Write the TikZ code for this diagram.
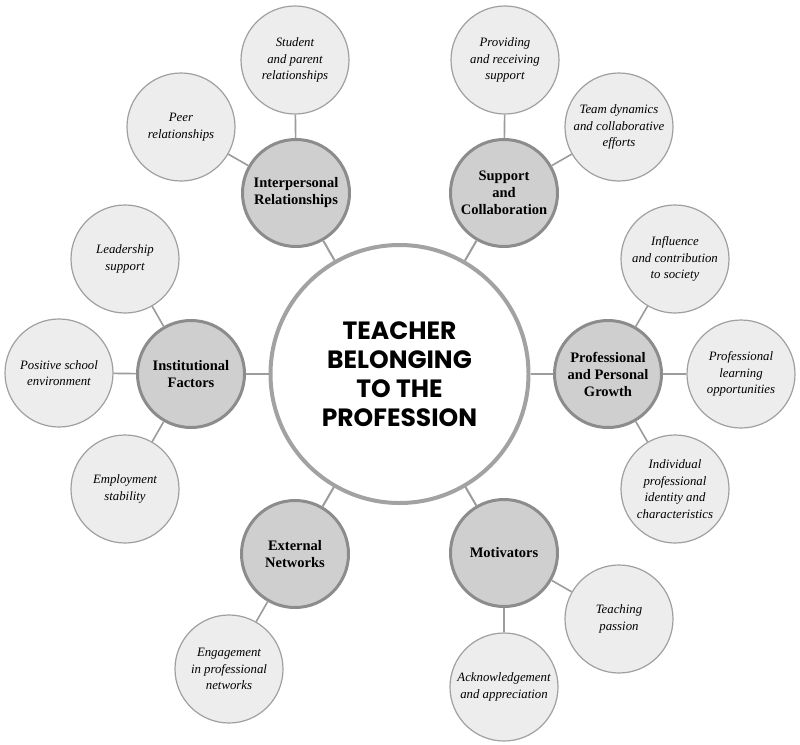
\documentclass[tikz,border=0pt]{standalone}
\usepackage{fontspec}
\setmainfont{Liberation Serif}
\newfontfamily\headfont{Poppins}
\definecolor{catfill}{HTML}{CFCFCF}
\definecolor{catdraw}{HTML}{8C8C8C}
\definecolor{leaffill}{HTML}{EDEDED}
\definecolor{leafdraw}{HTML}{A0A0A0}
\definecolor{linkcol}{HTML}{9C9C9C}
\definecolor{hubdraw}{HTML}{A2A2A2}
\tikzset{
  hub/.style={circle, draw=hubdraw, line width=4pt, fill=white, minimum size=258pt, inner sep=0pt,
    align=center, font=\headfont\bfseries\fontsize{25}{29}\selectfont},
  cat/.style={circle, draw=catdraw, line width=3pt, fill=catfill, minimum size=107pt, inner sep=0pt,
    align=center, font=\bfseries\fontsize{14.5}{17}\selectfont},
  leaf/.style={circle, draw=leafdraw, line width=1.2pt, fill=leaffill, minimum size=108pt, inner sep=0pt,
    align=center, font=\itshape\fontsize{12.8}{16.5}\selectfont},
  link/.style={draw=linkcol, line width=2pt},
  linkthin/.style={draw=linkcol, line width=1.6pt}
}
\begin{document}
\begin{tikzpicture}[x=1pt,y=-1pt]
\useasboundingbox (0,0) rectangle (800,744);
\fill[white] (0,0) rectangle (800,744);
% hub
\node[hub] (hub) at (399.5,374) {TEACHER\\BELONGING\\TO THE\\PROFESSION};
% categories
\node[cat] (inter) at (296,193) {Interpersonal\\Relationships};
\node[cat] (supp) at (504,193) {Support\\and\\Collaboration};
\node[cat] (inst) at (191,374) {Institutional\\Factors};
\node[cat] (grow) at (608,374) {Professional\\and Personal\\Growth};
\node[cat] (ext) at (295,554) {External\\Networks};
\node[cat] (mot) at (504,553) {Motivators};
% leaves
\node[leaf] (stud) at (295,60) {Student\\and parent\\relationships};
\node[leaf] (peer) at (181,127) {Peer\\relationships};
\node[leaf] (prov) at (505,60) {Providing\\and receiving\\support};
\node[leaf] (team) at (619,127) {Team dynamics\\and collaborative\\efforts};
\node[leaf] (lead) at (125,259) {Leadership\\support};
\node[leaf] (posi) at (59,373) {Positive school\\environment};
\node[leaf] (empl) at (125,489) {Employment\\stability};
\node[leaf] (infl) at (675,259) {Influence\\and contribution\\to society};
\node[leaf] (plearn) at (741,374) {Professional\\learning\\opportunities};
\node[leaf] (indiv) at (675,489) {Individual\\professional\\identity and\\characteristics};
\node[leaf] (enga) at (229,669) {Engagement\\in professional\\networks};
\node[leaf] (teach) at (619,619) {Teaching\\passion};
\node[leaf] (ackn) at (504,687) {Acknowledgement\\and appreciation};
% connectors hub -- categories
\draw[link] (hub) -- (inter);
\draw[link] (hub) -- (supp);
\draw[link] (hub) -- (inst);
\draw[link] (hub) -- (grow);
\draw[link] (hub) -- (ext);
\draw[link] (hub) -- (mot);
% connectors categories -- leaves
\draw[linkthin] (inter) -- (stud);
\draw[linkthin] (inter) -- (peer);
\draw[linkthin] (supp) -- (prov);
\draw[linkthin] (supp) -- (team);
\draw[linkthin] (inst) -- (lead);
\draw[linkthin] (inst) -- (posi);
\draw[linkthin] (inst) -- (empl);
\draw[linkthin] (grow) -- (infl);
\draw[linkthin] (grow) -- (plearn);
\draw[linkthin] (grow) -- (indiv);
\draw[linkthin] (ext) -- (enga);
\draw[linkthin] (mot) -- (teach);
\draw[linkthin] (mot) -- (ackn);
\end{tikzpicture}
\end{document}
